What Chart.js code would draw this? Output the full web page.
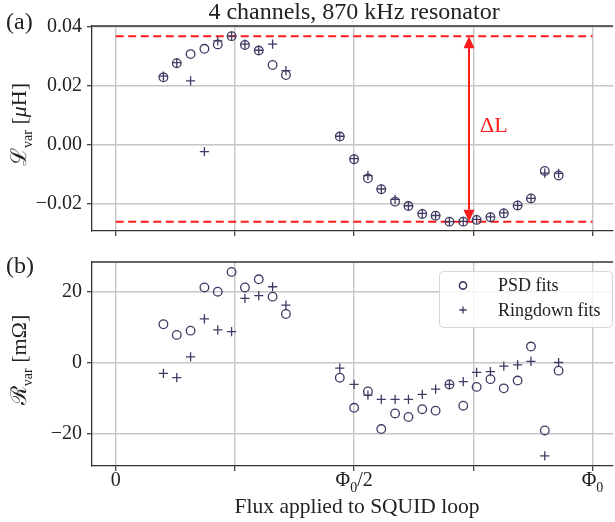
<!DOCTYPE html>
<html>
<head>
<meta charset="utf-8">
<script src="https://cdn.jsdelivr.net/npm/chart.js@4.4.1/dist/chart.umd.min.js"></script>
<style>
  html, body { margin: 0; padding: 0; background: #fff; overflow: hidden; }
  #wrap { position: relative; width: 615px; height: 522px; overflow: hidden; }
  canvas { position: absolute; left: 0; }
  #chartL { top: 0; }
  #chartR { top: 240px; }
</style>
</head>
<body>
<div id="wrap">
  <canvas id="chartL" width="619" height="240"></canvas>
  <canvas id="chartR" width="619" height="282"></canvas>
</div>
<script>
// flux in units of Phi0
const flux = [0.100, 0.128, 0.157, 0.186, 0.214, 0.243, 0.271, 0.300, 0.329, 0.357,
              0.470, 0.500, 0.529, 0.557, 0.586, 0.614, 0.643, 0.671, 0.700, 0.729,
              0.757, 0.786, 0.814, 0.843, 0.871, 0.900, 0.929];

// inductance variation [uH]
const psdL  = [0.0228, 0.0276, 0.0307, 0.0325, 0.0340, 0.0368, 0.0338, 0.0319, 0.0270, 0.0236,
               0.0027, -0.0050, -0.0115, -0.0152, -0.0194, -0.0209, -0.0236, -0.0242, -0.0262, -0.0262,
               -0.0256, -0.0247, -0.0234, -0.0207, -0.0183, -0.0090, -0.0105];
const ringL = [0.0232, 0.0278, 0.0216, -0.0024, 0.0352, 0.0368, 0.0341, 0.0320, 0.0341, 0.0251,
               0.0028, -0.0048, -0.0106, -0.0151, -0.0186, -0.0208, -0.0234, -0.0241, -0.0262, -0.0261,
               -0.0254, -0.0246, -0.0232, -0.0207, -0.0183, -0.0097, -0.0098];

// resistance variation [mOhm]
const psdR  = [10.8, 7.8, 9.0, 21.2, 20.0, 25.6, 21.2, 23.5, 18.6, 13.7,
               -4.3, -12.8, -8.2, -18.8, -14.4, -15.4, -13.2, -13.6, -6.2, -12.2,
               -6.9, -4.7, -7.3, -5.1, 4.5, -19.2, -2.3];
const ringR = [-3.1, -4.3, 1.6, 12.3, 9.2, 8.7, 18.1, 18.9, 21.4, 16.2,
               -1.6, -6.2, -9.2, -10.4, -10.4, -10.4, -9.0, -7.5, -6.2, -5.4,
               -2.8, -2.6, -1.0, -0.7, 0.3, -26.4, 0.0];

const fluxTicks = [0, 0.25, 0.5, 0.75, 1];
const fluxTickLabels = ['0', '', 'Φ_0/2', '', 'Φ_0'];
const lTicks = [-0.02, 0, 0.02, 0.04];
const lTickLabels = ['−0.02', '0.00', '0.02', '0.04'];
const rTicks = [-20, 0, 20];
const rTickLabels = ['−20', '0', '20'];
const arrowFlux = 0.741;
const seriesNames = ['PSD fits', 'Ringdown fits'];

const ink = '#3d3b63';
const spine = '#333333';
const gridCol = '#c6c6c6';
const serif = "'Liberation Serif', 'DejaVu Serif', serif";

const lMax = Math.max(...psdL);
const lMin = Math.min(...psdL);

const pts = ys => flux.map((x, i) => ({ x, y: ys[i] }));

function fontOf(p) {
  return (p.italic ? 'italic ' : '') + p.size + 'px ' + serif;
}

// "Φ_0/2" -> parts with subscript
function parseSub(str, size) {
  const parts = [];
  let buf = '';
  for (let i = 0; i < str.length; i++) {
    if (str[i] === '_') {
      if (buf) parts.push({ t: buf, size });
      buf = '';
      parts.push({ t: str[i + 1], size: Math.round(size * 0.68), sub: true });
      i++;
    } else buf += str[i];
  }
  if (buf) parts.push({ t: buf, size });
  return parts;
}

function drawParts(ctx, parts, x, y, align) {
  let w = 0;
  parts.forEach(p => { ctx.font = fontOf(p); p.w = ctx.measureText(p.t).width; w += p.w; });
  let cx = align === 'center' ? x - w / 2 : x;
  parts.forEach(p => {
    ctx.font = fontOf(p);
    ctx.fillText(p.t, cx, y + (p.sub ? p.size * 0.45 : 0));
    cx += p.w;
  });
}

function yTitle(ctx, parts, x, y) {
  ctx.save();
  ctx.translate(x, y);
  ctx.rotate(-Math.PI / 2);
  ctx.fillStyle = '#222';
  ctx.textBaseline = 'alphabetic';
  drawParts(ctx, parts, 0, 0, 'center');
  ctx.restore();
}

function topSpine(chart) {
  const { ctx, chartArea } = chart;
  ctx.save();
  ctx.strokeStyle = spine;
  ctx.lineWidth = 1.3;
  ctx.beginPath();
  ctx.moveTo(chartArea.left, chartArea.top);
  ctx.lineTo(chartArea.right, chartArea.top);
  ctx.stroke();
  ctx.restore();
}

function scales(yMin, yMax, yTicks, yLabels, xHeight) {
  return {
    x: {
      type: 'linear', min: -0.0498, max: 1.0433,
      afterBuildTicks: s => { s.ticks = fluxTicks.map(v => ({ value: v })); },
      afterFit: s => { s.height = xHeight; s.paddingLeft = 0; s.paddingRight = 0; },
      ticks: { display: false },
      grid: { color: gridCol, lineWidth: 1.4, tickColor: spine, tickLength: 5, tickWidth: 1.2 },
      border: { color: spine, width: 1.3 }
    },
    y: {
      type: 'linear', min: yMin, max: yMax,
      afterBuildTicks: s => { s.ticks = yTicks.map(v => ({ value: v })); },
      afterFit: s => { s.width = 92; s.paddingTop = 0; s.paddingBottom = 0; },
      ticks: {
        callback: (v, i) => yLabels[i],
        font: { family: serif, size: 20 }, color: '#222', padding: 5
      },
      grid: { color: gridCol, lineWidth: 1.4, tickColor: spine, tickLength: 5, tickWidth: 1.2 },
      border: { color: spine, width: 1.3 }
    }
  };
}

const psdStyle = { pointStyle: 'circle', pointRadius: 4.3, borderColor: ink, backgroundColor: 'rgba(0,0,0,0)', borderWidth: 1.3 };
const ringStyle = { pointStyle: 'cross', pointRadius: 4.6, borderColor: ink, backgroundColor: ink, borderWidth: 1.3 };
const dashStyle = { type: 'line', showLine: true, borderColor: '#ff1a1a', borderWidth: 2, borderDash: [8, 4.5], pointRadius: 0 };

const topPlugin = {
  id: 'topDecor',
  afterDatasetsDraw(chart) {
    const { ctx } = chart;
    const xs = chart.scales.x, ys = chart.scales.y;
    const x = xs.getPixelForValue(arrowFlux);
    const y1 = ys.getPixelForValue(lMax), y2 = ys.getPixelForValue(lMin);
    const head = 12, half = 5.5;
    ctx.save();
    ctx.strokeStyle = '#ff1a1a';
    ctx.fillStyle = '#ff1a1a';
    ctx.lineWidth = 2;
    ctx.beginPath();
    ctx.moveTo(x, y1 + head);
    ctx.lineTo(x, y2 - head);
    ctx.stroke();
    ctx.beginPath();
    ctx.moveTo(x, y1); ctx.lineTo(x - half, y1 + head); ctx.lineTo(x + half, y1 + head); ctx.closePath();
    ctx.fill();
    ctx.beginPath();
    ctx.moveTo(x, y2); ctx.lineTo(x - half, y2 - head); ctx.lineTo(x + half, y2 - head); ctx.closePath();
    ctx.fill();
    ctx.font = '22px ' + serif;
    ctx.textBaseline = 'middle';
    ctx.fillText('ΔL', x + 11, (y1 + y2) / 2 - 3);
    ctx.restore();
  },
  afterDraw(chart) {
    const { ctx, chartArea } = chart;
    topSpine(chart);
    ctx.save();
    ctx.fillStyle = '#222';
    ctx.textBaseline = 'alphabetic';
    ctx.font = '24px ' + serif;
    ctx.textAlign = 'center';
    ctx.fillText('4 channels, 870 kHz resonator', 354, 19);
    ctx.textAlign = 'left';
    ctx.fillText('(a)', 6, 29);
    ctx.restore();
    yTitle(ctx, [
      { t: 'ℒ', size: 22 }, { t: 'var', size: 14, sub: true }, { t: ' [', size: 22 },
      { t: 'μ', size: 22, italic: true }, { t: 'H]', size: 22 }
    ], 26, (chartArea.top + chartArea.bottom) / 2 - 4);
  }
};

const botPlugin = {
  id: 'botDecor',
  afterDraw(chart) {
    const { ctx, chartArea } = chart;
    const xs = chart.scales.x;
    topSpine(chart);
    ctx.save();
    ctx.fillStyle = '#222';
    ctx.textBaseline = 'alphabetic';
    ctx.font = '24px ' + serif;
    ctx.fillText('(b)', 6, 33);
    fluxTicks.forEach((v, i) => {
      if (!fluxTickLabels[i]) return;
      drawParts(ctx, parseSub(fluxTickLabels[i], 20), xs.getPixelForValue(v), chartArea.bottom + 20, 'center');
    });
    drawParts(ctx, [{ t: 'Flux applied to SQUID loop', size: 21.5 }], 357, chartArea.bottom + 47, 'center');

    // legend
    const bx = 439.5, by = 31.5, bw = 173, bh = 56;
    ctx.fillStyle = 'rgba(255,255,255,0.8)';
    ctx.strokeStyle = '#d6d6d6';
    ctx.lineWidth = 1;
    ctx.beginPath();
    ctx.roundRect(bx, by, bw, bh, 4);
    ctx.fill();
    ctx.stroke();
    const styles = [psdStyle, ringStyle];
    styles.forEach((st, i) => {
      const my = by + 14 + i * 24.5;
      ctx.strokeStyle = ink;
      ctx.lineWidth = 1.3;
      Chart.helpers.drawPoint(ctx, { pointStyle: st.pointStyle, radius: 3.6, borderWidth: 1.3 }, 463, my);
      if (st.pointStyle === 'circle') ctx.stroke();
      ctx.fillStyle = '#222';
      ctx.font = '18px ' + serif;
      ctx.textBaseline = 'middle';
      ctx.fillText(seriesNames[i], 498, my + 1);
    });
    ctx.restore();

    yTitle(ctx, [
      { t: 'ℛ', size: 22 }, { t: 'var', size: 14, sub: true }, { t: ' [mΩ]', size: 22 }
    ], 26, (chartArea.top + chartArea.bottom) / 2 - 4);
  }
};

new Chart(document.getElementById('chartL'), {
  type: 'scatter',
  data: {
    datasets: [
      { label: seriesNames[0], data: pts(psdL), ...psdStyle },
      { label: seriesNames[1], data: pts(ringL), ...ringStyle },
      { label: 'max', data: [{ x: 0, y: lMax }, { x: 1, y: lMax }], ...dashStyle },
      { label: 'min', data: [{ x: 0, y: lMin }, { x: 1, y: lMin }], ...dashStyle }
    ]
  },
  options: {
    responsive: false,
    animation: false,
    events: [],
    layout: { padding: { top: 26, right: 1, left: 0, bottom: 0 } },
    plugins: { legend: { display: false }, tooltip: { enabled: false } },
    scales: scales(-0.02937, 0.04024, lTicks, lTickLabels, 9)
  },
  plugins: [topPlugin]
});

new Chart(document.getElementById('chartR'), {
  type: 'scatter',
  data: {
    datasets: [
      { label: seriesNames[0], data: pts(psdR), ...psdStyle },
      { label: seriesNames[1], data: pts(ringR), ...ringStyle }
    ]
  },
  options: {
    responsive: false,
    animation: false,
    events: [],
    layout: { padding: { top: 22, right: 1, left: 0, bottom: 0 } },
    plugins: { legend: { display: false }, tooltip: { enabled: false } },
    scales: scales(-29.24, 28.39, rTicks, rTickLabels, 56)
  },
  plugins: [botPlugin]
});
</script>
</body>
</html>
